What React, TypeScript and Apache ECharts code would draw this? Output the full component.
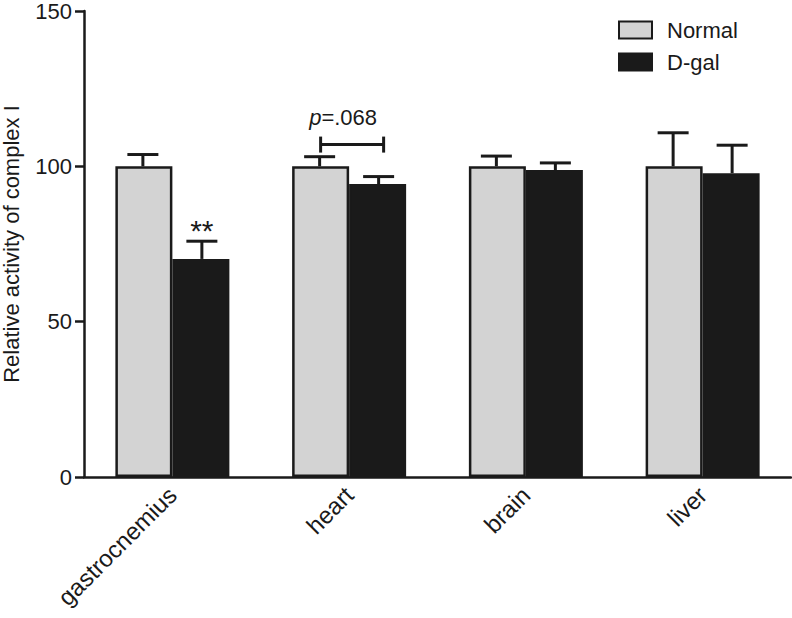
import React, { useEffect, useRef } from "react";
import * as echarts from "echarts";

const categories = ["gastrocnemius", "heart", "brain", "liver"];
const seriesNames = ["Normal", "D-gal"];
const normalValues = [100, 100, 100, 100];
const normalErrors = [3.8, 3.1, 3.3, 10.8];
const dgalValues = [70.2, 94.3, 98.8, 97.8];
const dgalErrors = [5.7, 2.4, 2.3, 9.0];
const dgalMarks = ["**", "", "", ""];
const bracketCategory = [1];
const bracketValue = [107];
const bracketLabel = ["p", "=.068"];
const yTicks = [0, 50, 100, 150];

const FONT = "'Liberation Sans', Arial, Helvetica, sans-serif";
const INK = "#1a1a1a";
const BAR_W = 57;
const HALF = 29.5;

export default function App() {
  const ref = useRef<HTMLDivElement>(null);
  useEffect(() => {
    if (!ref.current) return;
    const chart = echarts.init(ref.current, undefined, { renderer: "svg" });

    const errItem = (sign: number, marks?: string[]) => (params: any, api: any) => {
      const i = api.value(0);
      const v = api.value(1);
      const e = api.value(2);
      const base = api.coord([i, v]);
      const top = api.coord([i, v + e]);
      const x = base[0] + sign * HALF;
      const children: any[] = [
        { type: "line", shape: { x1: x, y1: base[1], x2: x, y2: top[1] }, style: { stroke: INK, lineWidth: 3 } },
        { type: "line", shape: { x1: x - 15.5, y1: top[1], x2: x + 15.5, y2: top[1] }, style: { stroke: INK, lineWidth: 3 } },
      ];
      if (marks && marks[params.dataIndex]) {
        children.push({
          type: "text",
          style: { text: marks[params.dataIndex], x, y: top[1] + 4, align: "center", verticalAlign: "bottom", font: `30px ${FONT}`, fill: INK },
        });
      }
      return { type: "group", children };
    };

    const option: any = {
      animation: false,
      grid: { left: 84, right: 1, top: 11, bottom: 141, containLabel: false, outerBoundsMode: "none" },
      legend: {
        data: seriesNames,
        orient: "vertical",
        left: 613,
        top: 14,
        itemWidth: 33,
        itemHeight: 17,
        itemGap: 10,
        icon: "rect",
        textStyle: { fontSize: 22, fontFamily: FONT, color: INK, padding: [0, 0, 0, 10] },
      },
      xAxis: {
        type: "category",
        data: categories,
        axisLine: { lineStyle: { color: INK, width: 2.5 } },
        axisTick: { alignWithLabel: true, length: 9, lineStyle: { color: INK, width: 2.5 } },
        axisLabel: { rotate: 45, fontSize: 24, fontFamily: FONT, color: INK, margin: 14 },
        splitLine: { show: false },
      },
      yAxis: {
        type: "value",
        min: yTicks[0],
        max: yTicks[yTicks.length - 1],
        interval: 50,
        name: "Relative activity of complex I",
        nameLocation: "middle",
        nameGap: 62,
        nameTextStyle: { fontSize: 22, fontFamily: FONT, color: INK },
        axisLine: { show: true, lineStyle: { color: INK, width: 2.5 } },
        axisTick: { show: true, length: 9, lineStyle: { color: INK, width: 2.5 } },
        axisLabel: { fontSize: 22, fontFamily: FONT, color: INK, margin: 12 },
        splitLine: { show: false },
      },
      series: [
        {
          name: seriesNames[0],
          type: "bar",
          data: normalValues,
          barWidth: BAR_W,
          barGap: "0%",
          itemStyle: { color: "#d3d3d3", borderColor: INK, borderWidth: 2.5 },
          z: 2,
        },
        {
          name: seriesNames[1],
          type: "bar",
          data: dgalValues,
          barWidth: BAR_W,
          barGap: "0%",
          itemStyle: { color: INK, borderColor: INK, borderWidth: 2.5 },
          z: 2,
        },
        {
          type: "custom",
          data: normalValues.map((v, i) => [i, v, normalErrors[i]]),
          encode: { x: 0, y: 1 },
          renderItem: errItem(-1),
          z: 1,
          silent: true,
        },
        {
          type: "custom",
          data: dgalValues.map((v, i) => [i, v, dgalErrors[i]]),
          encode: { x: 0, y: 1 },
          renderItem: errItem(1, dgalMarks),
          z: 1,
          silent: true,
        },
        {
          type: "custom",
          data: bracketCategory.map((c, i) => [c, bracketValue[i]]),
          encode: { x: 0, y: 1 },
          silent: true,
          renderItem: (params: any, api: any) => {
            const p = api.coord([api.value(0), api.value(1)]);
            const x1 = p[0] - HALF + 1;
            const x2 = p[0] + HALF + 5;
            const y = p[1];
            const st = { stroke: INK, lineWidth: 3 };
            return {
              type: "group",
              children: [
                { type: "line", shape: { x1, y1: y, x2, y2: y }, style: st },
                { type: "line", shape: { x1, y1: y - 8, x2: x1, y2: y + 8 }, style: st },
                { type: "line", shape: { x1: x2, y1: y - 8, x2, y2: y + 8 }, style: st },
                {
                  type: "text",
                  style: {
                    text: `{i|${bracketLabel[0]}}{n|${bracketLabel[1]}}`,
                    x: (x1 + x2) / 2 - 9,
                    y: y - 16,
                    align: "center",
                    verticalAlign: "bottom",
                    rich: {
                      i: { fontSize: 22, fontStyle: "italic", fontFamily: FONT, fill: INK, color: INK },
                      n: { fontSize: 22, fontFamily: FONT, fill: INK, color: INK },
                    },
                  },
                },
              ],
            };
          },
        },
      ],
    };
    chart.setOption(option);
    return () => chart.dispose();
  }, []);
  return <div ref={ref} style={{ position: "absolute", left: 0, top: 0, width: 792, height: 618 }} />;
}
